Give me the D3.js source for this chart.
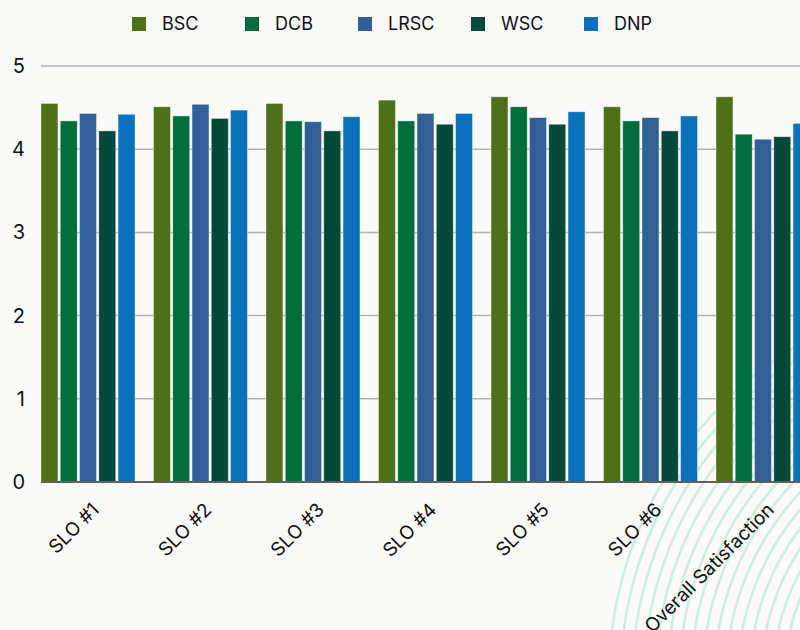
<!DOCTYPE html>
<html>
<head>
  <meta charset="utf-8">
  <script src="https://cdn.jsdelivr.net/npm/d3@7/dist/d3.min.js"></script>
  <style>
    html, body { margin: 0; padding: 0; background: #fafaf9; }
    svg { display: block; font-family: Inter, "Noto Sans", sans-serif; }
  </style>
</head>
<body>
  <script>
    // data
    var categories = ["SLO #1", "SLO #2", "SLO #3", "SLO #4", "SLO #5", "SLO #6", "Overall Satisfaction"];
    var seriesNames = ["BSC", "DCB", "LRSC", "WSC", "DNP"];
    var BSC  = [4.55, 4.51, 4.55, 4.59, 4.63, 4.51, 4.63];
    var DCB  = [4.34, 4.40, 4.34, 4.34, 4.51, 4.34, 4.18];
    var LRSC = [4.43, 4.54, 4.33, 4.43, 4.38, 4.38, 4.12];
    var WSC  = [4.22, 4.37, 4.22, 4.30, 4.30, 4.22, 4.15];
    var DNP  = [4.42, 4.47, 4.39, 4.43, 4.45, 4.40, 4.31];
    var yTicks = [0, 1, 2, 3, 4, 5];
    var colors = ["#4e7018", "#006d3a", "#325f97", "#03493a", "#0b71bb"];

    var values = [BSC, DCB, LRSC, WSC, DNP];
    var width = 800, height = 630;
    var left = 41, step = 112.5;

    var svg = d3.select("body").append("svg")
      .attr("width", width)
      .attr("height", height);

    // decorative arcs in the lower right corner
    var deco = svg.append("g");
    d3.range(204, 400, 11.7).forEach(function(r) {
      deco.append("circle")
        .attr("cx", 1000)
        .attr("cy", 680)
        .attr("r", r)
        .attr("fill", "none")
        .attr("stroke", "#cdeee2")
        .attr("stroke-width", 2.6);
    });

    var x0 = d3.scaleBand()
      .domain(categories)
      .range([left, left + step * categories.length]);

    var x1 = d3.scaleBand()
      .domain(seriesNames)
      .range([0, 94])
      .paddingInner(0.12);

    var y = d3.scaleLinear()
      .domain([0, 5])
      .range([482, 66]);

    // grid lines
    svg.append("g")
      .selectAll("line")
      .data(yTicks.filter(function(d) { return d > 0; }))
      .enter()
      .append("line")
      .attr("x1", left)
      .attr("x2", width)
      .attr("y1", function(d) { return y(d); })
      .attr("y2", function(d) { return y(d); })
      .attr("stroke", "#b3b3b3")
      .attr("stroke-width", 1.5);

    // y tick labels
    svg.append("g")
      .selectAll("text")
      .data(yTicks)
      .enter()
      .append("text")
      .attr("x", 25)
      .attr("y", function(d) { return y(d) + 7; })
      .attr("text-anchor", "end")
      .style("font-size", "20px")
      .style("fill", "#111")
      .text(function(d) { return d; });

    // bars
    var groups = svg.append("g")
      .selectAll("g")
      .data(categories)
      .enter()
      .append("g")
      .attr("transform", function(d) { return "translate(" + x0(d) + ",0)"; });

    groups.selectAll("rect")
      .data(function(c, i) {
        return seriesNames.map(function(s, j) { return {name: s, value: values[j][i], color: colors[j]}; });
      })
      .enter()
      .append("rect")
      .attr("x", function(d) { return x1(d.name); })
      .attr("width", x1.bandwidth())
      .attr("y", function(d) { return y(d.value); })
      .attr("height", function(d) { return y(0) - y(d.value); })
      .attr("fill", function(d) { return d.color; })
      .attr("stroke", "#ffffff")
      .attr("stroke-opacity", 0.5)
      .attr("stroke-width", 0.8);

    // baseline
    svg.append("line")
      .attr("x1", left)
      .attr("x2", width)
      .attr("y1", y(0))
      .attr("y2", y(0))
      .attr("stroke", "#5f5f5f")
      .attr("stroke-width", 2);

    // x labels, rotated
    svg.append("g")
      .selectAll("text")
      .data(categories)
      .enter()
      .append("text")
      .attr("transform", function(d) {
        return "translate(" + (x0(d) + x0.bandwidth() / 2 + 3) + ",511) rotate(-45)";
      })
      .attr("text-anchor", "end")
      .style("font-size", "19px")
      .style("fill", "#111")
      .text(function(d) { return d; });

    // legend
    var legend = svg.append("g")
      .selectAll("g")
      .data(seriesNames)
      .enter()
      .append("g")
      .attr("transform", function(d, i) { return "translate(" + (132 + i * 113) + ",17)"; });

    legend.append("rect")
      .attr("width", 14)
      .attr("height", 14)
      .attr("fill", function(d, i) { return colors[i]; });

    legend.append("text")
      .attr("x", 30)
      .attr("y", 13)
      .style("font-size", "18px")
      .style("fill", "#111")
      .text(function(d) { return d; });
  </script>
</body>
</html>
